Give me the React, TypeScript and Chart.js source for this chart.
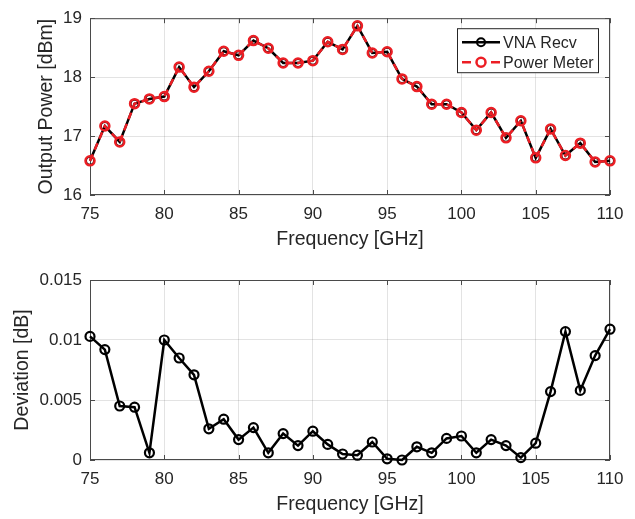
import React, { useEffect, useRef } from "react";
import { Chart, registerables } from "chart.js";

Chart.register(...registerables);

// frequency points [GHz]
const frequencies = [
  75, 76, 77, 78, 79, 80, 81, 82, 83, 84, 85, 86, 87, 88, 89, 90, 91, 92,
  93, 94, 95, 96, 97, 98, 99, 100, 101, 102, 103, 104, 105, 106, 107, 108,
  109, 110,
];

// output power [dBm]
const vnaRecv = [
  16.58, 17.17, 16.9, 17.55, 17.63, 17.67, 18.17, 17.83, 18.1, 18.44, 18.37,
  18.62, 18.49, 18.24, 18.24, 18.28, 18.6, 18.47, 18.87, 18.41, 18.43, 17.97,
  17.84, 17.54, 17.54, 17.4, 17.1, 17.4, 16.97, 17.26, 16.63, 17.12, 16.67,
  16.88, 16.56, 16.58,
];
const powerMeter = [
  16.58, 17.17, 16.9, 17.55, 17.63, 17.67, 18.17, 17.83, 18.1, 18.44, 18.37,
  18.62, 18.49, 18.24, 18.24, 18.28, 18.6, 18.47, 18.87, 18.41, 18.43, 17.97,
  17.84, 17.54, 17.54, 17.4, 17.1, 17.4, 16.97, 17.26, 16.63, 17.12, 16.67,
  16.88, 16.56, 16.58,
];

// deviation [dB]
const deviation = [
  0.0103, 0.0092, 0.0045, 0.0044, 0.0006, 0.01, 0.0085, 0.0071, 0.0026,
  0.0034, 0.0017, 0.0027, 0.0006, 0.0022, 0.0012, 0.0024, 0.0013, 0.0005,
  0.0004, 0.0015, 0.0001, 0.0, 0.0011, 0.0006, 0.0018, 0.002, 0.0006, 0.0017,
  0.0012, 0.0002, 0.0014, 0.0057, 0.0107, 0.0058, 0.0087, 0.0109,
];

const freqTicks = [75, 80, 85, 90, 95, 100, 105, 110];
const powerTicks = [16, 17, 18, 19];
const deviationTicks = [0, 0.005, 0.01, 0.015];
const deviationTickLabels = ["0", "0.005", "0.01", "0.015"];

const FONT = "'Liberation Sans', Arial, Helvetica, sans-serif";
const TEXT_COLOR = "#262626";
const GRID_COLOR = "rgba(38, 38, 38, 0.13)";
const RED = "rgb(236, 30, 36)";

const toPoints = (ys: number[]) => ys.map((y, i) => ({ x: frequencies[i], y }));

// MATLAB style box with inward ticks
const framePlugin = {
  id: "frame",
  beforeDatasetsDraw(chart: any) {
    const { ctx, chartArea: a, scales } = chart;
    ctx.save();
    ctx.strokeStyle = "#4a4a4a";
    ctx.lineWidth = 1;
    ctx.strokeRect(a.left + 0.5, a.top + 0.5, a.width - 1, a.height - 1);
    const tl = 5;
    ctx.beginPath();
    scales.x.ticks.forEach((t: any) => {
      const px = Math.round(scales.x.getPixelForValue(t.value)) + 0.5;
      ctx.moveTo(px, a.bottom);
      ctx.lineTo(px, a.bottom - tl);
      ctx.moveTo(px, a.top);
      ctx.lineTo(px, a.top + tl);
    });
    scales.y.ticks.forEach((t: any) => {
      const py = Math.round(scales.y.getPixelForValue(t.value)) + 0.5;
      ctx.moveTo(a.left, py);
      ctx.lineTo(a.left + tl, py);
      ctx.moveTo(a.right, py);
      ctx.lineTo(a.right - tl, py);
    });
    ctx.stroke();
    ctx.restore();
  },
};

const legendPlugin = {
  id: "boxLegend",
  afterDraw(chart: any) {
    const { ctx, chartArea: a } = chart;
    const w = 142;
    const h = 45;
    const x0 = a.right - 11 - w;
    const y0 = a.top + 10;
    ctx.save();
    ctx.fillStyle = "#ffffff";
    ctx.fillRect(x0, y0, w, h);
    ctx.strokeStyle = "#262626";
    ctx.lineWidth = 1;
    ctx.strokeRect(x0 + 0.5, y0 + 0.5, w - 1, h - 1);

    const lx1 = x0 + 5;
    const lx2 = x0 + 43;
    const cx = (lx1 + lx2) / 2;
    const r1 = y0 + 14;
    const r2 = y0 + 34;

    // VNA Recv
    ctx.strokeStyle = "#000000";
    ctx.lineWidth = 2.5;
    ctx.beginPath();
    ctx.moveTo(lx1, r1);
    ctx.lineTo(lx2, r1);
    ctx.stroke();
    ctx.lineWidth = 2;
    ctx.beginPath();
    ctx.arc(cx, r1, 4, 0, Math.PI * 2);
    ctx.stroke();

    // Power Meter
    ctx.strokeStyle = RED;
    ctx.lineWidth = 2.5;
    ctx.beginPath();
    ctx.moveTo(lx1, r2);
    ctx.lineTo(lx1 + 9, r2);
    ctx.moveTo(lx2 - 9, r2);
    ctx.lineTo(lx2, r2);
    ctx.stroke();
    ctx.beginPath();
    ctx.arc(cx, r2, 4.5, 0, Math.PI * 2);
    ctx.stroke();

    ctx.fillStyle = TEXT_COLOR;
    ctx.font = `16px ${FONT}`;
    ctx.textBaseline = "middle";
    ctx.textAlign = "left";
    ctx.fillText("VNA Recv", lx2 + 3, r1 + 1);
    ctx.fillText("Power Meter", lx2 + 3, r2 + 1);
    ctx.restore();
  },
};

const xScale = (titleBottom: number, height: number) => ({
  type: "linear" as const,
  min: 75,
  max: 110,
  afterBuildTicks: (scale: any) => {
    scale.ticks = freqTicks.map((v) => ({ value: v }));
  },
  afterFit: (scale: any) => {
    scale.height = height;
  },
  grid: { color: GRID_COLOR, drawTicks: false },
  border: { display: false },
  ticks: {
    color: TEXT_COLOR,
    font: { family: FONT, size: 17 },
    padding: 9,
    maxRotation: 0,
  },
  title: {
    display: true,
    text: "Frequency [GHz]",
    color: TEXT_COLOR,
    font: { family: FONT, size: 19.5 },
    padding: { top: 0, bottom: titleBottom },
  },
});

export default function App() {
  const topRef = useRef<HTMLCanvasElement>(null);
  const bottomRef = useRef<HTMLCanvasElement>(null);

  useEffect(() => {
    document.body.style.margin = "0";
    if (!topRef.current || !bottomRef.current) return;

    const top = new Chart(topRef.current, {
      type: "line",
      data: {
        datasets: [
          {
            label: "VNA Recv",
            data: toPoints(vnaRecv),
            borderColor: "#000000",
            borderWidth: 2.5,
            pointRadius: 4,
            pointBorderWidth: 2,
            pointBorderColor: "#000000",
            pointBackgroundColor: "rgba(0,0,0,0)",
            order: 1,
            clip: false as any,
          },
          {
            label: "Power Meter",
            data: toPoints(powerMeter),
            borderColor: RED,
            borderWidth: 2.5,
            borderDash: [7, 5],
            pointRadius: 4.5,
            pointBorderWidth: 2.5,
            pointBorderColor: RED,
            pointBackgroundColor: "rgba(0,0,0,0)",
            order: 0,
            clip: false as any,
          },
        ],
      },
      options: {
        responsive: false,
        animation: false,
        layout: { padding: { left: 0, right: 25, top: 15, bottom: 0 } },
        plugins: { legend: { display: false }, tooltip: { enabled: false } },
        scales: {
          x: xScale(9, 65),
          y: {
            type: "linear",
            min: 16,
            max: 19,
            afterBuildTicks: (scale: any) => {
              scale.ticks = powerTicks.map((v) => ({ value: v }));
            },
            afterFit: (scale: any) => {
              scale.width = 90;
            },
            grid: { color: GRID_COLOR, drawTicks: false },
            border: { display: false },
            ticks: {
              color: TEXT_COLOR,
              font: { family: FONT, size: 17 },
              padding: 8,
            },
            title: {
              display: true,
              text: "Output Power [dBm]",
              color: TEXT_COLOR,
              font: { family: FONT, size: 19.5 },
              padding: { top: 35, bottom: 0 },
            },
          },
        },
      },
      plugins: [framePlugin, legendPlugin],
    });

    const bottom = new Chart(bottomRef.current, {
      type: "line",
      data: {
        datasets: [
          {
            label: "Deviation",
            data: toPoints(deviation),
            borderColor: "#000000",
            borderWidth: 2.5,
            pointRadius: 4.5,
            pointBorderWidth: 2.2,
            pointBorderColor: "#000000",
            pointBackgroundColor: "rgba(0,0,0,0)",
            clip: false as any,
          },
        ],
      },
      options: {
        responsive: false,
        animation: false,
        layout: { padding: { left: 0, right: 25, top: 20, bottom: 0 } },
        plugins: { legend: { display: false }, tooltip: { enabled: false } },
        scales: {
          x: xScale(3, 59),
          y: {
            type: "linear",
            min: 0,
            max: 0.015,
            afterBuildTicks: (scale: any) => {
              scale.ticks = deviationTicks.map((v) => ({ value: v }));
            },
            afterFit: (scale: any) => {
              scale.width = 90;
            },
            grid: { color: GRID_COLOR, drawTicks: false },
            border: { display: false },
            ticks: {
              color: TEXT_COLOR,
              font: { family: FONT, size: 17 },
              padding: 8,
              callback: (_v: any, i: number) => deviationTickLabels[i],
            },
            title: {
              display: true,
              text: "Deviation [dB]",
              color: TEXT_COLOR,
              font: { family: FONT, size: 19.5 },
              padding: { top: 11, bottom: 0 },
            },
          },
        },
      },
      plugins: [framePlugin],
    });

    return () => {
      top.destroy();
      bottom.destroy();
    };
  }, []);

  return (
    <div style={{ width: 635, height: 519, background: "#ffffff" }}>
      <canvas ref={topRef} width={635} height={260} style={{ display: "block" }} />
      <canvas ref={bottomRef} width={635} height={259} style={{ display: "block" }} />
    </div>
  );
}
